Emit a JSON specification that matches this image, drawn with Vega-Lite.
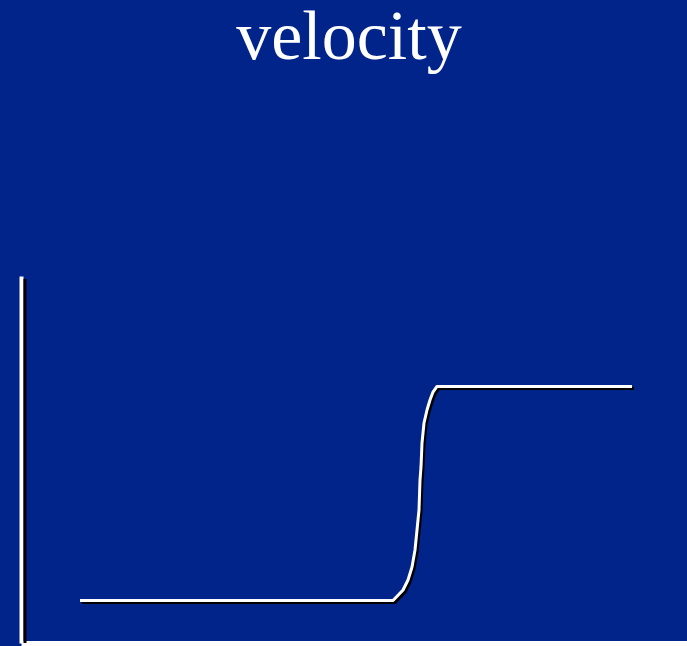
{
  "$schema": "https://vega.github.io/schema/vega-lite/v6.json",
  "width": 666,
  "height": 367,
  "autosize": {"type": "none"},
  "padding": {"left": 21, "top": 276, "right": 0, "bottom": 3},
  "background": "#00248a",
  "title": {
    "text": "velocity",
    "font": "Liberation Serif",
    "fontSize": 70,
    "fontWeight": "normal",
    "color": "white",
    "anchor": "middle",
    "baseline": "alphabetic",
    "offset": 147,
    "dx": -5
  },
  "config": {
    "view": {"stroke": null},
    "axis": {
      "domainColor": "white",
      "labels": false,
      "ticks": false,
      "grid": false,
      "title": null,
      "zindex": 1
    },
    "axisX": {"domainWidth": 5},
    "axisY": {"domainWidth": 4}
  },
  "layer": [
    {
      "data": {"values": [{"time": 0}]},
      "mark": {"type": "rule", "color": "black", "strokeWidth": 3, "xOffset": 4, "yOffset": 3},
      "encoding": {
        "x": {"field": "time", "type": "quantitative", "scale": {"domain": [0, 10], "nice": false, "zero": false}}
      }
    },
    {
      "data": {
        "name": "curve",
        "values": [
          {"time": 0.886, "velocity": 1.158},
          {"time": 5.586, "velocity": 1.158},
          {"time": 5.736, "velocity": 1.444},
          {"time": 5.811, "velocity": 1.717},
          {"time": 5.871, "velocity": 2.071},
          {"time": 5.916, "velocity": 2.534},
          {"time": 5.946, "velocity": 3.079},
          {"time": 5.976, "velocity": 3.624},
          {"time": 5.991, "velocity": 4.441},
          {"time": 6.006, "velocity": 4.796},
          {"time": 6.021, "velocity": 5.45},
          {"time": 6.051, "velocity": 5.995},
          {"time": 6.096, "velocity": 6.349},
          {"time": 6.141, "velocity": 6.621},
          {"time": 6.186, "velocity": 6.839},
          {"time": 6.246, "velocity": 6.99},
          {"time": 9.174, "velocity": 6.99}
        ]
      },
      "encoding": {
        "x": {"field": "time", "type": "quantitative"},
        "y": {
          "field": "velocity",
          "type": "quantitative",
          "scale": {"domain": [0, 10], "nice": false, "zero": false}
        }
      },
      "layer": [
        {"mark": {"type": "line", "color": "black", "strokeWidth": 3, "xOffset": 2, "yOffset": 2, "strokeJoin": "round"}},
        {"mark": {"type": "line", "color": "white", "strokeWidth": 3, "strokeJoin": "round"}}
      ]
    }
  ]
}
